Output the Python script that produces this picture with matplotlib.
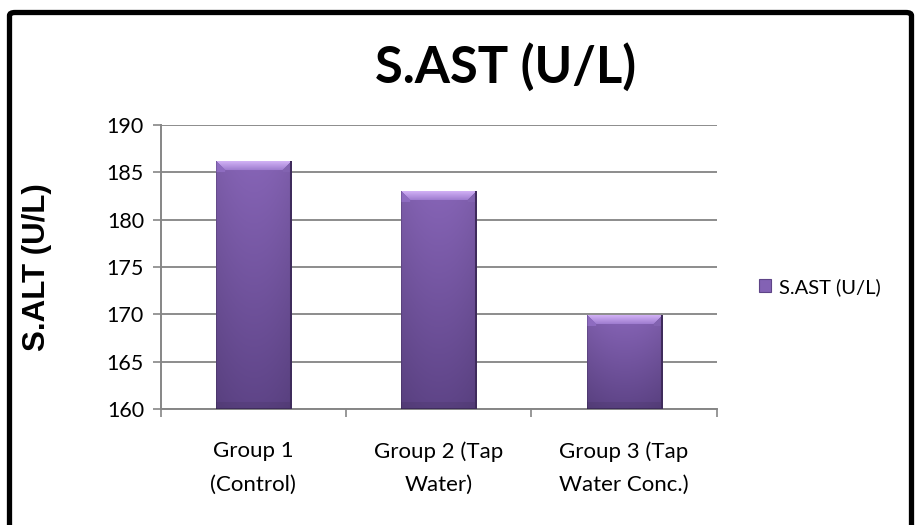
import numpy as np
import matplotlib
matplotlib.use("Agg")
import matplotlib.pyplot as plt
from matplotlib.patches import FancyBboxPatch, Rectangle
from matplotlib.colors import to_rgb

# Data
categories = ["Group 1\n(Control)", "Group 2 (Tap\nWater)", "Group 3 (Tap\nWater Conc.)"]
values = [186.1, 183.0, 169.9]
series_name = "S.AST (U/L)"
y_label = "S.ALT (U/L)"
y_ticks = [160, 165, 170, 175, 180, 185, 190]

W_PX, H_PX, DPI = 917, 525, 100
fig = plt.figure(figsize=(W_PX / DPI, H_PX / DPI), dpi=DPI)
fig.patch.set_facecolor("white")

ax = fig.add_axes([160.7 / W_PX, 1 - 409 / H_PX, (716.7 - 160.7) / W_PX, (409 - 125) / H_PX])
ax.set_facecolor("white")

x = np.arange(len(categories))
base = "#7A5AA8"
bars = ax.bar(x, [v - y_ticks[0] for v in values], bottom=y_ticks[0], width=0.405,
              color=base, edgecolor="none", zorder=3)

ax.set_xlim(-0.5, len(categories) - 0.5)
ax.set_ylim(y_ticks[0], y_ticks[-1])
ax.set_yticks(y_ticks)
ax.set_yticklabels([str(t) for t in y_ticks], fontsize=15.5, family="Lato")
ax.set_xticks(x)
ax.set_xticklabels(categories, fontsize=16, family="Lato", linespacing=1.85)
ax.set_xticks(np.arange(len(categories) + 1) - 0.5, minor=True)
ax.tick_params(axis="x", which="major", length=0, pad=23)
ax.tick_params(axis="x", which="minor", length=6, color="#868686", width=1.2)
ax.tick_params(axis="y", length=6, color="#868686", width=1.2, pad=6)

ax.grid(axis="y", color="#8C8C8C", linewidth=1.4, zorder=0)
ax.set_axisbelow(True)
for side in ("top", "right"):
    ax.spines[side].set_visible(False)
for side in ("left", "bottom"):
    ax.spines[side].set_color("#868686")
    ax.spines[side].set_linewidth(1.4)

fig.text(37 / W_PX, 1 - 267 / H_PX, y_label, rotation=90, ha="center", va="center",
         fontsize=22.5, fontweight="bold", family="Liberation Sans")

# Shaded, bevelled fill for every bar
fig.canvas.draw()
c_top = np.array(to_rgb("#8664B6"))
c_bot = np.array(to_rgb("#5E4487"))
c_bev_hi = np.array(to_rgb("#D2B2F6"))
c_bev_lo = np.array(to_rgb("#9E7CCF"))
c_side = np.array(to_rgb("#8E6CC0"))
c_edge = np.array(to_rgb("#3F2C5C"))
bev = 9
for rect in bars:
    bx, by = rect.get_x(), rect.get_y()
    bw, bh = rect.get_width(), rect.get_height()
    (px0, py0), (px1, py1) = ax.transData.transform([(bx, by), (bx + bw, by + bh)])
    W = max(int(round(px1 - px0)), 2)
    H = max(int(round(py1 - py0)), 2)
    rows = np.arange(H)[:, None] + 0.5
    cols = np.arange(W)[None, :] + 0.5
    t = rows / H
    img = c_top[None, None, :] * (1 - t[..., None]) + c_bot[None, None, :] * t[..., None]
    img = np.broadcast_to(img, (H, W, 3)).copy()
    s = np.abs(cols / W - 0.5) * 2
    img *= (1 - 0.07 * s ** 2)[..., None]
    # top bevel
    top = (rows < bev) & (cols > rows) & (cols < W - rows)
    tt = np.clip(rows / bev, 0, 1)
    topcol = c_bev_hi[None, None, :] * (1 - tt[..., None]) + c_bev_lo[None, None, :] * tt[..., None]
    img = np.where(top[..., None], np.broadcast_to(topcol, (H, W, 3)), img)
    # side bevels
    left = (cols < bev) & (cols <= rows) & (rows < bev + 2)
    right = (cols > W - bev) & (W - cols <= rows) & (rows < bev + 2)
    img = np.where(left[..., None], c_side, img)
    img = np.where(right[..., None], c_side * 0.92, img)
    # soft lower bevel
    low = (rows > H - 7)
    img = np.where(low[..., None], img * 0.93, img)
    # dark outline on the right and bottom
    img[:, -2:, :] = c_edge
    img[-1:, :, :] = c_edge
    img[:, :1, :] = img[:, :1, :] * 0.85
    ax.imshow(np.clip(img, 0, 1), extent=(bx, bx + bw, by, by + bh), aspect="auto",
              interpolation="bilinear", zorder=4, origin="upper")
ax.set_xlim(-0.5, len(categories) - 0.5)
ax.set_ylim(y_ticks[0], y_ticks[-1])

# Title
fig.text(506 / W_PX, 1 - 67 / H_PX, series_name, ha="center", va="center",
         fontsize=36.5, fontweight="bold", family="Lato")

# Legend
handle = Rectangle((0, 0), 1, 1, facecolor="#8362B4", edgecolor="#5E4487", linewidth=0.8)
fig.legend([handle], [series_name], loc="center left", bbox_to_anchor=(0.808, 1 - 287 / H_PX),
           frameon=False, prop={"family": "Lato", "size": 14.5}, handlelength=0.6,
           handleheight=0.6, handletextpad=0.4)

# Rounded outer frame
frame = FancyBboxPatch((9.5 / W_PX, -10 / H_PX), (911.5 - 9.5) / W_PX, (512.5 + 10) / H_PX,
                       boxstyle="round,pad=0,rounding_size=0.006", transform=fig.transFigure,
                       facecolor="none", edgecolor="black", linewidth=3.8, zorder=10)
fig.patches.append(frame)

fig.savefig("out.png", dpi=DPI, facecolor="white")
